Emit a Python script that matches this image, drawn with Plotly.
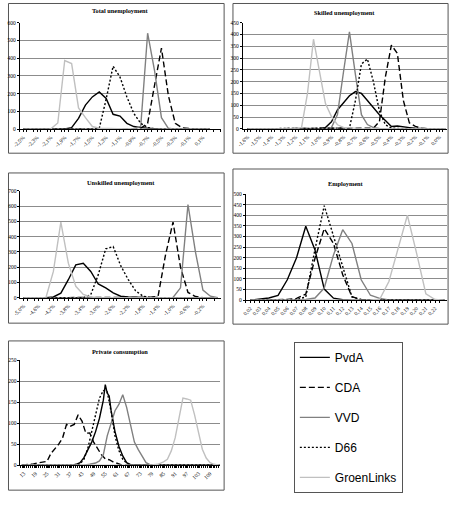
import plotly.graph_objects as go

W, H = 453, 505
SERIES = ["PvdA", "CDA", "VVD", "D66", "GroenLinks"]
COLORS = {"PvdA": "#000000", "CDA": "#000000", "VVD": "#808080", "D66": "#000000", "GroenLinks": "#c0c0c0"}
DASHES = {"PvdA": "solid", "CDA": "6px,3px", "VVD": "solid", "D66": "2px,2px", "GroenLinks": "solid"}

# ---------------- Total unemployment ----------------
TU_CATS = ["-2,5%", "-2,4%", "-2,3%", "-2,2%", "-2,1%", "-2,0%", "-1,9%", "-1,8%", "-1,7%", "-1,6%",
           "-1,5%", "-1,4%", "-1,3%", "-1,2%", "-1,1%", "-1,0%", "-0,9%", "-0,8%", "-0,7%", "-0,6%",
           "-0,5%", "-0,4%", "-0,3%", "-0,2%", "-0,1%", "0,0%", "0,1%", "0,2%"]
TU_PVDA = [0, 0, 0, 0, 0, 0, 1, 9, 61, 136, 182, 210, 173, 84, 74, 33, 15, 9, 5, 2, 0, 0, 0, 0, 0, 0, 0, 0]
TU_CDA = [0, 0, 0, 0, 0, 0, 0, 0, 0, 0, 0, 0, 0, 0, 0, 0, 0, 5, 33, 247, 457, 190, 33, 8, 2, 0, 0, 0]
TU_VVD = [0, 0, 0, 0, 0, 0, 0, 0, 0, 0, 0, 0, 0, 0, 0, 0, 2, 15, 541, 330, 65, 5, 0, 0, 0, 0, 0, 0]
TU_D66 = [0, 0, 0, 0, 0, 0, 0, 0, 0, 0, 0, 5, 170, 355, 294, 182, 89, 33, 9, 2, 0, 0, 0, 0, 0, 0, 0, 0]
TU_GL = [0, 0, 0, 0, 2, 35, 387, 370, 120, 65, 15, 5, 3, 3, 2, 1, 0, 0, 0, 0, 0, 0, 0, 0, 0, 0, 0, 0]

# ---------------- Skilled unemployment ----------------
SK_CATS = ["-1,60%", "-1,55%", "-1,50%", "-1,45%", "-1,40%", "-1,35%", "-1,30%", "-1,25%", "-1,20%",
           "-1,15%", "-1,10%", "-1,05%", "-1,00%", "-0,95%", "-0,90%", "-0,85%", "-0,80%", "-0,75%",
           "-0,70%", "-0,65%", "-0,60%", "-0,55%", "-0,50%", "-0,45%", "-0,40%", "-0,35%", "-0,30%",
           "-0,25%", "-0,20%", "-0,15%", "-0,10%", "-0,05%", "0,00%", "0,05%"]
SK_TICKS = ["-1,6%", "-1,5%", "-1,4%", "-1,3%", "-1,2%", "-1,1%", "-1,0%", "-0,9%", "-0,8%",
            "-0,7%", "-0,6%", "-0,5%", "-0,4%", "-0,3%", "-0,2%", "-0,1%", "0,0%"]
SK_PVDA = [0, 0, 0, 0, 0, 0, 0, 0, 0, 0, 0, 0, 1, 5, 30, 80, 110, 140, 158, 150, 120, 90, 60, 35, 10, 12,
           10, 5, 2, 0, 0, 0, 0, 0]
SK_CDA = [0, 0, 0, 0, 0, 0, 0, 0, 0, 0, 0, 0, 0, 0, 0, 0, 0, 0, 0, 0, 0, 3, 30, 220, 355, 320, 120, 25,
          10, 3, 0, 0, 0, 0]
SK_VVD = [0, 0, 0, 0, 0, 0, 0, 0, 0, 0, 0, 0, 0, 0, 5, 60, 240, 411, 230, 60, 18, 5, 1, 0, 0, 0, 0, 0,
          0, 0, 0, 0, 0, 0]
SK_D66 = [0, 0, 0, 0, 0, 0, 0, 0, 0, 0, 0, 0, 0, 0, 0, 0, 0, 3, 120, 275, 296, 200, 75, 17, 3, 0, 0, 0,
          0, 0, 0, 0, 0, 0]
SK_GL = [0, 0, 0, 0, 0, 0, 0, 0, 0, 5, 150, 380, 250, 107, 52, 17, 6, 3, 2, 0, 0, 0, 0, 0, 0, 0, 0, 0,
         0, 0, 0, 0, 0, 0]

# ---------------- Unskilled unemployment ----------------
UN_CATS = ["-5,0%", "-4,8%", "-4,6%", "-4,4%", "-4,2%", "-4,0%", "-3,8%", "-3,6%", "-3,4%", "-3,2%",
           "-3,0%", "-2,8%", "-2,6%", "-2,4%", "-2,2%", "-2,0%", "-1,8%", "-1,6%", "-1,4%", "-1,2%",
           "-1,0%", "-0,8%", "-0,6%", "-0,4%", "-0,2%", "0,0%", "0,2%"]
UN_PVDA = [0, 0, 0, 0, 5, 30, 118, 215, 226, 172, 90, 65, 32, 10, 5, 2, 0, 0, 0, 0, 0, 0, 0, 0, 0, 0, 0]
UN_CDA = [0, 0, 0, 0, 0, 0, 0, 0, 0, 0, 0, 0, 0, 0, 0, 0, 0, 3, 10, 280, 495, 200, 35, 8, 0, 0, 0]
UN_VVD = [0, 0, 0, 0, 0, 0, 0, 0, 0, 0, 0, 0, 0, 0, 0, 0, 0, 0, 0, 0, 2, 65, 610, 300, 50, 10, 0]
UN_D66 = [0, 0, 0, 0, 0, 0, 0, 0, 0, 20, 150, 320, 335, 210, 120, 45, 10, 2, 0, 0, 0, 0, 0, 0, 0, 0, 0]
UN_GL = [0, 0, 0, 0, 172, 495, 226, 75, 22, 5, 2, 0, 0, 0, 0, 0, 0, 0, 0, 0, 0, 0, 0, 0, 0, 0, 0]

# ---------------- Employment ----------------
EM_CATS = ["0,02", "0,03", "0,04", "0,05", "0,06", "0,07", "0,08", "0,09", "0,10", "0,11", "0,12",
           "0,13", "0,14", "0,15", "0,16", "0,17", "0,18", "0,19", "0,20", "0,21", "0,22", "0,23"]
EM_PVDA = [0, 5, 10, 22, 96, 200, 348, 236, 52, 9, 2, 0, 0, 0, 0, 0, 0, 0, 0, 0, 0, 0]
EM_CDA = [0, 0, 0, 0, 3, 8, 28, 197, 337, 267, 120, 16, 3, 0, 0, 0, 0, 0, 0, 0, 0, 0]
EM_VVD = [0, 0, 0, 0, 0, 0, 3, 10, 57, 213, 332, 267, 96, 23, 8, 1, 0, 0, 0, 0, 0, 0]
EM_D66 = [0, 0, 0, 0, 0, 2, 15, 240, 445, 300, 160, 15, 2, 0, 0, 0, 0, 0, 0, 0, 0, 0]
EM_GL = [0, 0, 0, 0, 0, 0, 0, 0, 0, 0, 0, 0, 0, 1, 4, 88, 244, 400, 220, 30, 3, 0]

# ---------------- Private consumption ----------------
PC_TICKS = [13, 19, 25, 31, 37, 43, 49, 55, 61, 67, 73, 79, 85, 91, 97, 103, 109]
PC_PVDA_X = [12, 38, 40, 42, 44, 46, 48, 50, 52, 54, 55, 56, 57, 58, 60, 62, 64, 66, 68, 114]
PC_PVDA_Y = [0, 0, 2, 6, 18, 35, 55, 80, 112, 155, 192, 172, 165, 130, 80, 45, 22, 6, 1, 0]
PC_CDA_X = [12, 15, 18, 21, 24, 25, 27, 29, 31, 33, 35, 37, 39, 41, 43, 45, 47, 49, 51, 53, 55, 57, 59,
            61, 63, 65, 114]
PC_CDA_Y = [0, 1, 3, 6, 8, 9, 28, 40, 50, 65, 97, 93, 97, 120, 105, 76, 77, 55, 40, 25, 15, 13, 8, 4, 1,
            0, 0]
PC_VVD_X = [12, 44, 47, 50, 52, 54, 56, 58, 60, 62, 64, 66, 68, 70, 72, 74, 76, 78, 114]
PC_VVD_Y = [0, 0, 2, 5, 10, 25, 70, 100, 130, 145, 168, 138, 100, 55, 37, 20, 6, 1, 0]
PC_D66_X = [12, 40, 42, 44, 46, 48, 50, 52, 54, 56, 58, 60, 62, 64, 66, 68, 114]
PC_D66_Y = [0, 0, 3, 14, 40, 80, 122, 160, 178, 175, 128, 70, 35, 14, 5, 0, 0]
PC_GL_X = [12, 78, 82, 85, 87, 89, 91, 93, 95, 97, 99, 101, 103, 105, 107, 109, 111, 114]
PC_GL_Y = [0, 0, 2, 8, 14, 34, 65, 110, 160, 158, 155, 120, 75, 38, 17, 6, 2, 0]

SERIF = "Liberation Serif"
SANS = "Liberation Sans"


def xd(a, b):
    return [a / W, b / W]


def yd(top, bottom):
    return [1 - bottom / H, 1 - top / H]


panels = [
    dict(title="Total unemployment", box=(0.5, 0.5, 220, 152), area=(12, 20, 216.7, 127.7), ty=8,
         xrange=[-0.5, 28.6], ymax=600, dy=100,
         tickvals=list(range(0, 27, 2)), ticktext=TU_CATS[0:27:2], minor0=-0.5,
         data=[(list(range(len(TU_CATS))), v) for v in (TU_PVDA, TU_CDA, TU_VVD, TU_D66, TU_GL)]),
    dict(title="Skilled unemployment", box=(229, 0.5, 448, 152), area=(239, 20, 447, 127.3), ty=10,
         xrange=[-0.8, 33.3], ymax=450, dy=50,
         tickvals=list(range(0, 33, 2)), ticktext=SK_TICKS, minor0=-0.5,
         data=[(list(range(len(SK_CATS))), v) for v in (SK_PVDA, SK_CDA, SK_VVD, SK_D66, SK_GL)]),
    dict(title="Unskilled unemployment", box=(0.5, 172, 220, 324), area=(12.7, 190, 216.7, 298.3), ty=182,
         xrange=[-0.4, 26.4], ymax=700, dy=100,
         tickvals=list(range(0, 25, 2)), ticktext=UN_CATS[0:25:2], minor0=-0.5,
         data=[(list(range(len(UN_CATS))), v) for v in (UN_PVDA, UN_CDA, UN_VVD, UN_D66, UN_GL)]),
    dict(title="Employment", box=(229, 168, 448, 325), area=(242, 193.3, 447, 300.7), ty=183,
         xrange=[-0.5, 21.3], ymax=500, dy=50,
         tickvals=list(range(0, 21)), ticktext=EM_CATS[0:21], minor0=-0.5,
         data=[(list(range(len(EM_CATS))), v) for v in (EM_PVDA, EM_CDA, EM_VVD, EM_D66, EM_GL)]),
    dict(title="Private consumption", box=(0.5, 342, 220, 493), area=(12.7, 361.7, 216, 467.7), ty=353,
         xrange=[11.3, 114.2], ymax=250, dy=50,
         tickvals=PC_TICKS, ticktext=[str(t) for t in PC_TICKS], minor0=12.5,
         data=[(PC_PVDA_X, PC_PVDA_Y), (PC_CDA_X, PC_CDA_Y), (PC_VVD_X, PC_VVD_Y),
               (PC_D66_X, PC_D66_Y), (PC_GL_X, PC_GL_Y)]),
]

fig = go.Figure()
shapes = []
annotations = []
layout_axes = {}

for k, p in enumerate(panels):
    n = k + 1
    xs = "" if n == 1 else str(n)
    x0, y0, x1, y1 = p["area"]
    layout_axes["xaxis" + xs] = dict(
        domain=xd(x0, x1), anchor="y" + xs, range=p["xrange"],
        tickmode="array", tickvals=p["tickvals"], ticktext=p["ticktext"],
        tickangle=-45, tickfont=dict(family=SERIF, size=5.5, color="#000"),
        ticks="outside", ticklen=2, tickcolor="#000", tickwidth=0.8,
        showline=True, linecolor="#000", linewidth=1, showgrid=False, zeroline=False,
        minor=dict(ticks="outside", ticklen=2, tickcolor="#000", tickwidth=0.8,
                   tickmode="linear", tick0=p["minor0"], dtick=1, showgrid=False),
        fixedrange=True,
    )
    layout_axes["yaxis" + xs] = dict(
        domain=yd(y0, y1), anchor="x" + xs, range=[0, p["ymax"]],
        tickmode="linear", tick0=0, dtick=p["dy"],
        tickfont=dict(family=SERIF, size=5.5, color="#000"),
        ticks="outside", ticklen=2, tickcolor="#000", tickwidth=0.8,
        showline=True, linecolor="#000", linewidth=1,
        showgrid=True, gridcolor="#8c8c8c", gridwidth=0.8, zeroline=False,
        fixedrange=True,
    )
    for name, (xv, yv) in zip(SERIES, p["data"]):
        fig.add_trace(go.Scatter(
            x=xv, y=yv, mode="lines", name=name,
            xaxis="x" + xs, yaxis="y" + xs,
            line=dict(color=COLORS[name], dash=DASHES[name], width=1.4),
            showlegend=(k == 0), legendgroup=name, hoverinfo="skip",
        ))
    bx0, by0, bx1, by1 = p["box"]
    shapes.append(dict(type="rect", xref="paper", yref="paper",
                       x0=bx0 / W, x1=bx1 / W, y0=1 - by1 / H, y1=1 - by0 / H,
                       line=dict(color="#555", width=1), layer="below"))
    annotations.append(dict(text="<b>%s</b>" % p["title"], xref="paper", yref="paper",
                            x=(x0 + x1) / 2 / W, y=1 - p["ty"] / H, xanchor="center", yanchor="middle",
                            showarrow=False, font=dict(family=SERIF, size=6.3, color="#000")))

fig.update_layout(
    width=W, height=H, margin=dict(l=0, r=0, t=0, b=0),
    paper_bgcolor="white", plot_bgcolor="white",
    shapes=shapes, annotations=annotations,
    showlegend=True,
    legend=dict(x=291 / W, y=1 - 343 / H, xanchor="left", yanchor="top",
                bordercolor="#555", borderwidth=1, bgcolor="white",
                font=dict(family=SANS, size=12, color="#000"),
                tracegroupgap=11, itemwidth=30, traceorder="grouped"),
    **layout_axes,
)

fig.write_html("out.html")
